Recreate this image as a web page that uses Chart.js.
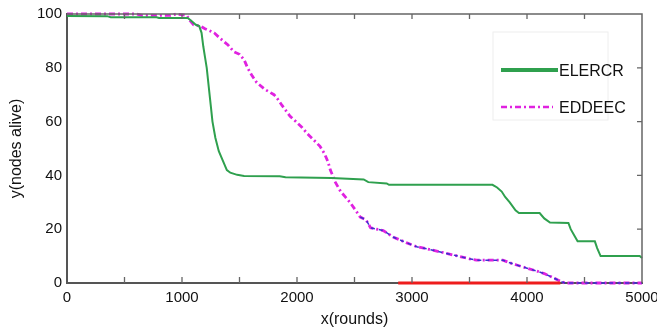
<!DOCTYPE html>
<html>
<head>
<meta charset="utf-8">
<script src="https://cdn.jsdelivr.net/npm/chart.js@4.4.0/dist/chart.umd.min.js"></script>
<style>
html,body{margin:0;padding:0;background:#fff}
</style>
</head>
<body>
<canvas id="myChart" width="657" height="331"></canvas>
<script>
// ELERCR (green, solid)
const elercrRounds=[0,350,380,780,800,1050,1080,1120,1150,1170,1185,1200,1215,1235,1250,1265,1290,1320,1355,1390,1420,1480,1540,1850,1900,2300,2580,2620,2780,2800,3700,3740,3780,3810,3850,3900,3930,4110,4150,4200,4360,4380,4420,4440,4590,4610,4640,4980,5000];
const elercrAlive=[99.3,99.2,98.8,98.8,98.5,98.5,97.5,96,95.5,93,88,84,80,72,66,60,54,49,45.5,42,41,40.2,39.8,39.7,39.3,39,38.5,37.5,37,36.5,36.5,35.5,34,32,30,27,26,26,24,22.5,22.3,20,17,15.5,15.5,13,10,10,9.3];

// EDDEEC (magenta, dash-dot)
const eddeecRounds=[0,600,650,900,950,1040,1070,1100,1160,1200,1280,1330,1400,1450,1500,1540,1570,1610,1650,1720,1800,1830,1870,1940,1990,2040,2090,2150,2200,2240,2270,2290,2310,2330,2380,2420,2464,2510,2550,2600,2640,2750,2840,2950,3040,3150,3300,3400,3500,3560,3790,3850,3910,4000,4080,4150,4200,4260,4300,4330,5000];
const eddeecAlive=[100,100,99.5,99.5,100,99.5,97.5,96,95.5,94.5,93,91,88.5,86,85,83,80,77,74.5,72,70,68.5,66,62,60,58,55.5,53,50.8,48,45,42,40,37.7,34,32,29.8,27,24.5,23.5,20.5,19.5,17,15,13.5,12.5,11,10,9,8.5,8.5,7.5,6.7,5.5,4.5,3.5,2.5,1.3,0.5,0,0];

// blue overlay on the lower part of EDDEEC
const blueRounds=[2550,2600,2640,2750,2840,2950,3040,3150,3300,3400,3500,3560,3790,3850,3910,4000,4080,4150,4200,4260,4300,4330,5000];
const blueAlive=[24.5,23.5,20.5,19.5,17,15,13.5,12.5,11,10,9,8.5,8.5,7.5,6.7,5.5,4.5,3.5,2.5,1.3,0.5,0,0];

// red segment on the x axis
const redRounds=[2880,4290];
const redAlive=[0,0];

const xTickLabels=[0,1000,2000,3000,4000,5000];
const xTickMarks=[500,1000,1500,2000,2500,3000,3500,4000,4500];
const yTickMarks=[20,40,60,80];

const pts=(xs,ys)=>xs.map((v,i)=>({x:v,y:ys[i]}));
const fontFam='"Liberation Sans", Arial, sans-serif';

const frameLegend={
    id:'frameLegend',
    afterDatasetsDraw(chart){
        const {ctx,chartArea:a,scales:{x,y}}=chart;
        ctx.save();
        ctx.strokeStyle='#666';
        ctx.lineWidth=1.5;
        ctx.beginPath();
        ctx.moveTo(a.left,a.top);ctx.lineTo(a.right,a.top);ctx.lineTo(a.right,a.bottom);
        ctx.stroke();
        ctx.lineWidth=1.3;
        ctx.beginPath();
        for(const v of xTickMarks){
            const px=x.getPixelForValue(v);
            ctx.moveTo(px,a.bottom);ctx.lineTo(px,a.bottom-6);
            ctx.moveTo(px,a.top);ctx.lineTo(px,a.top+5);
        }
        for(const v of yTickMarks){
            const py=y.getPixelForValue(v);
            ctx.moveTo(a.right,py);ctx.lineTo(a.right-5,py);
        }
        ctx.stroke();
        // legend inside plot
        ctx.strokeStyle='#eeeeee';
        ctx.lineWidth=1;
        ctx.strokeRect(493,32,115,88);
        const items=chart.data.datasets.filter(d=>d.inLegend);
        items.forEach((d,i)=>{
            const ly=70+i*37;
            ctx.beginPath();
            ctx.strokeStyle=d.borderColor;
            ctx.lineWidth=i==0?4:2.5;
            ctx.setLineDash(d.borderDash||[]);
            ctx.moveTo(501,ly);ctx.lineTo(i==0?558:553,ly);
            ctx.stroke();
            ctx.setLineDash([]);
            ctx.fillStyle='#111';
            ctx.font='16px '+fontFam;
            ctx.textBaseline='middle';
            ctx.fillText(d.label,559,ly+2);
        });
        ctx.restore();
    }
};

const ctx=document.getElementById('myChart');
const myChart=new Chart(ctx,{
    type:'line',
    data:{
        datasets:[
            {label:'ELERCR',data:pts(elercrRounds,elercrAlive),borderColor:'#2fa04e',borderWidth:2,pointRadius:0,inLegend:true,order:1,clip:false},
            {label:'EDDEEC',data:pts(eddeecRounds,eddeecAlive),borderColor:'#e022e0',borderWidth:2.8,borderDash:[6,3,2,3],pointRadius:0,inLegend:true,order:3,clip:false},
            {label:'blue',data:pts(blueRounds,blueAlive),borderColor:'#3a2fd0',borderWidth:1.5,borderDash:[4,4],pointRadius:0,order:2,clip:false},
            {label:'red',data:pts(redRounds,redAlive),borderColor:'#ee1c1c',borderWidth:3,pointRadius:0,order:0,clip:false}
        ]
    },
    options:{
        responsive:false,
        animation:false,
        layout:{padding:{top:14,right:15,left:0,bottom:0}},
        plugins:{legend:{display:false},tooltip:{enabled:false}},
        scales:{
            x:{
                type:'linear',min:0,max:5000,
                afterFit:s=>{s.height=48;s.paddingLeft=0;s.paddingRight=0},
                afterBuildTicks:s=>{s.ticks=xTickLabels.map(v=>({value:v}))},
                grid:{display:false,drawTicks:false},
                border:{display:true,color:'#555',width:2},
                ticks:{padding:6,color:'#111',font:{size:15,family:fontFam},maxRotation:0,callback:v=>String(v)},
                title:{display:true,text:'x(rounds)',color:'#111',padding:{top:0,bottom:2},font:{size:16,family:fontFam}}
            },
            y:{
                min:0,max:100,
                afterFit:s=>{s.width=67;s.paddingTop=0;s.paddingBottom=0},
                ticks:{stepSize:20,padding:5,color:'#111',font:{size:15,family:fontFam}},
                grid:{display:false,drawTicks:false},
                border:{display:true,color:'#555',width:2},
                title:{display:true,text:'y(nodes alive)',color:'#111',padding:{top:7,bottom:0},font:{size:16,family:fontFam}}
            }
        }
    },
    plugins:[frameLegend]
});
</script>
</body>
</html>
